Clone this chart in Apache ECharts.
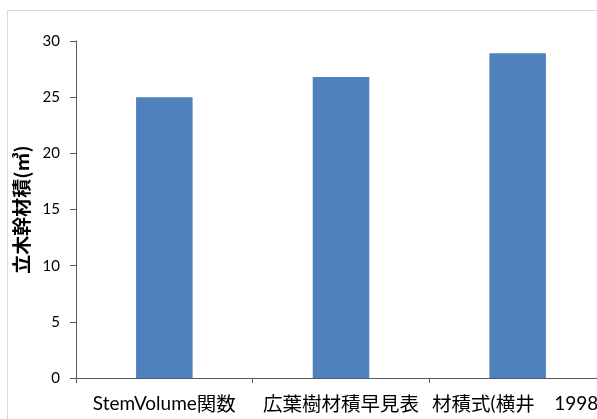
<!DOCTYPE html>
<html>
<head>
<meta charset="utf-8">
<script src="https://cdn.jsdelivr.net/npm/echarts@6/dist/echarts.min.js"></script>
<style>
  html, body { margin: 0; padding: 0; background: #fff; }
  #chart { width: 597px; height: 419px; }
</style>
</head>
<body>
<div id="chart"></div>
<script>
// Stem volume estimated by three methods
const categories = ['StemVolume関数', '広葉樹材積早見表', '材積式(横井　1998)'];
const volumes = [25.0, 26.8, 28.9];
const yTicks = { min: 0, max: 30, step: 5 };
const yTitle = '立木幹材積(㎥)';

const chart = echarts.init(document.getElementById('chart'), null, { renderer: 'canvas' });
const cjkFont = '"Noto Sans CJK JP", sans-serif';
const latinFont = 'Lato, "Noto Sans", sans-serif';
const axisColor = '#595959';

// Split a label into Latin and CJK runs so each gets its own font
function mixedLabel(text) {
  const isCjk = ch => /[\u3000-\u30ff\u3400-\u9fff\uff00-\uffef]/.test(ch);
  let out = '';
  let run = '';
  let runCjk = null;
  for (const ch of text) {
    const c = isCjk(ch);
    if (runCjk !== null && c !== runCjk) {
      out += '{' + (runCjk ? 'c' : 'l') + '|' + run + '}';
      run = '';
    }
    run += ch;
    runCjk = c;
  }
  if (run) out += '{' + (runCjk ? 'c' : 'l') + '|' + run + '}';
  return out;
}

chart.setOption({
  animation: false,
  backgroundColor: '#ffffff',
  graphic: [
    {
      type: 'rect',
      shape: { x: 7.5, y: 10.5, width: 700, height: 500 },
      style: { fill: 'none', stroke: '#d9d9d9', lineWidth: 1 },
      silent: true
    }
  ],
  grid: { left: 76, top: 41, right: -9, bottom: 41, containLabel: false, outerBoundsMode: 'none' },
  xAxis: {
    type: 'category',
    data: categories,
    boundaryGap: true,
    axisLine: { show: true, lineStyle: { color: axisColor, width: 1 } },
    axisTick: { show: true, alignWithLabel: false, interval: 0, length: 5, lineStyle: { color: axisColor } },
    axisLabel: {
      interval: 0,
      margin: 14,
      color: '#000',
      hideOverlap: false,
      formatter: mixedLabel,
      rich: {
        l: { fontFamily: latinFont, fontSize: 19, lineHeight: 24, color: '#000' },
        c: { fontFamily: cjkFont, fontSize: 19.5, lineHeight: 24, color: '#000' }
      }
    },
    splitLine: { show: false }
  },
  yAxis: {
    type: 'value',
    min: yTicks.min,
    max: yTicks.max,
    interval: yTicks.step,
    name: yTitle,
    nameLocation: 'middle',
    nameGap: 44,
    nameRotate: 90,
    nameTextStyle: {
      color: '#000',
      fontSize: 19,
      fontWeight: 'bold',
      fontFamily: cjkFont
    },
    axisLine: { show: true, lineStyle: { color: axisColor, width: 1 } },
    axisTick: { show: true, inside: false, length: 6, lineStyle: { color: axisColor } },
    axisLabel: {
      margin: 16,
      color: '#000',
      fontSize: 15,
      fontFamily: latinFont
    },
    splitLine: { show: false }
  },
  series: [
    {
      type: 'bar',
      data: volumes,
      barWidth: '32%',
      itemStyle: { color: '#4F81BD' }
    }
  ]
});
</script>
</body>
</html>
